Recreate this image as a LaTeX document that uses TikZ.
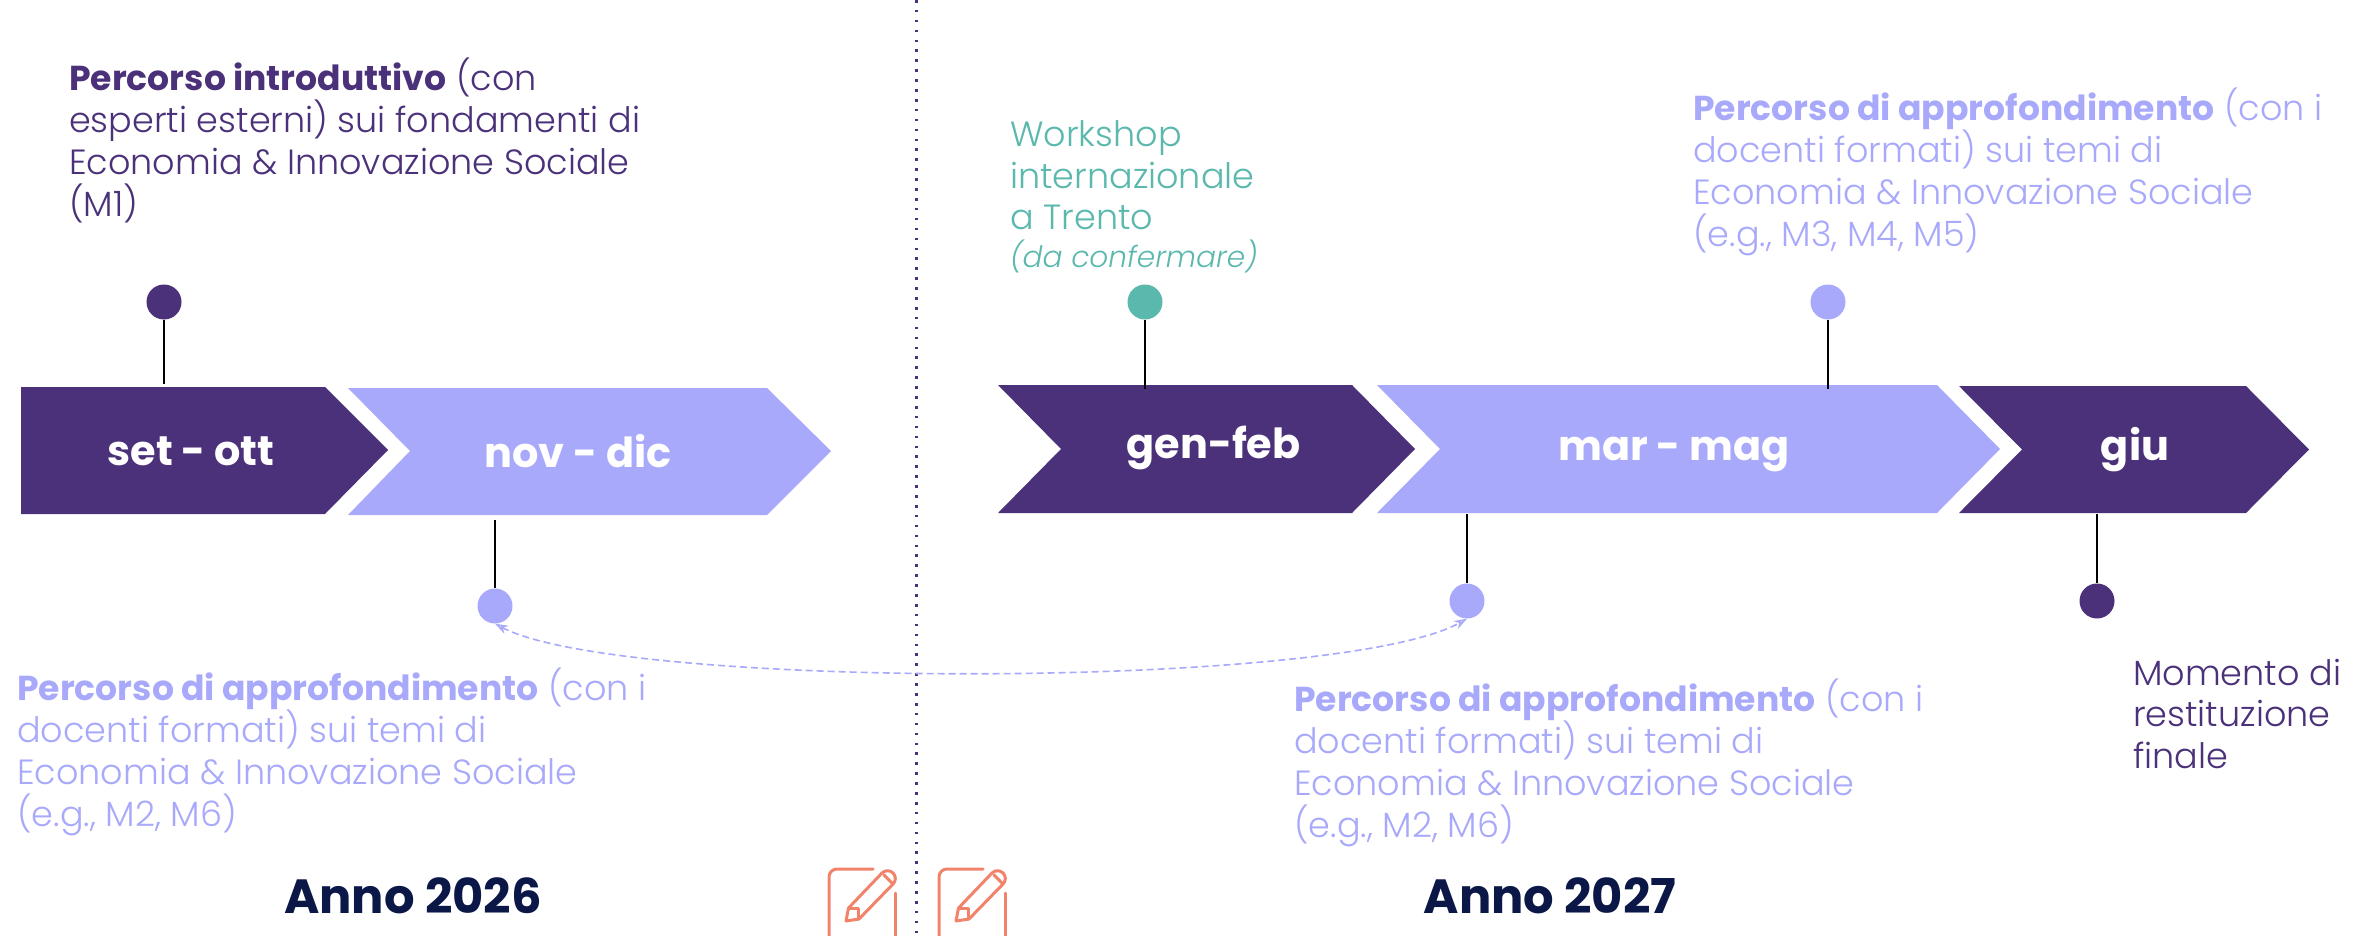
\documentclass[tikz,border=0pt]{standalone}
\usepackage{fontspec}
\setmainfont{Poppins}[UprightFont=* Light, BoldFont=* Bold, ItalicFont=* Light Italic]
\usetikzlibrary{positioning, arrows.meta}

\definecolor{darkpurple}{HTML}{4A3179}
\definecolor{lavender}{HTML}{A8A9FB}
\definecolor{tealgreen}{HTML}{5BB8AD}
\definecolor{navyblue}{HTML}{0A1747}
\definecolor{coral}{HTML}{F2836B}

\newcommand{\notehead}[1]{{\fontsize{34.6}{41.7}\selectfont\bfseries #1}}
\lineskiplimit=-100pt

\tikzset{
    dotnode/.style={circle, minimum size=35pt, inner sep=0pt},
    stemline/.style={black, line width=2pt},
    monthlabel/.style={anchor=base, text=white, inner sep=0pt, font=\fontsize{41.4}{50}\selectfont\bfseries},
    noteblock/.style={anchor=base west, align=left, inner sep=0pt, font=\fontsize{35}{41.7}\selectfont},
    yearlabel/.style={anchor=base, inner sep=0pt, text=navyblue, font=\fontsize{48}{56}\selectfont\bfseries},
}

\begin{document}
\begin{tikzpicture}[x=1pt, y=-1pt]
        \useasboundingbox (0,0) rectangle (2371,936);
        % separator
        \coordinate (septop) at (916.5,0);
        \coordinate (sepbottom) at (916.5,936);
        \draw [darkpurple, line width=2.6pt, dash pattern=on 2.6pt off 7.3pt] (septop)--(sepbottom);
        % chevrons
        \fill [darkpurple] (21,387)--(325,387)--(388,450)--(325,514)--(21,514)--cycle;
        \fill [lavender] (348,388)--(767,388)--(831,451)--(767,515)--(348,515)--(410,451)--cycle;
        \fill [darkpurple] (998,385)--(1352,385)--(1415,449)--(1352,513)--(998,513)--(1061,449)--cycle;
        \fill [lavender] (1377,385)--(1937,385)--(2000,449)--(1937,513)--(1377,513)--(1440,449)--cycle;
        \fill [darkpurple] (1959,386)--(2246,386)--(2309,449.5)--(2246,513)--(1959,513)--(2022,449.5)--cycle;
        \node [monthlabel] (setott) at (191,465) {set - ott};
        \node [monthlabel] (novdic) at (578,467) {nov - dic};
        \node [monthlabel] (genfeb) at (1213.5,458) {gen-feb};
        \node [monthlabel] (marmag) at (1674,460) {mar - mag};
        \node [monthlabel] (giu) at (2135,460) {giu};
        % stem ends on the chevrons
        \coordinate (setottedge) at (164,384);
        \coordinate (novdicedge) at (495,520);
        \coordinate (genfebedge) at (1145,389);
        \coordinate (marmagtop) at (1828,389);
        \coordinate (marmagbot) at (1467,514);
        \coordinate (giuedge) at (2097,514);
        % dots
        \node [dotnode, fill=darkpurple] (dotintro) at (164,302) {};
        \node [dotnode, fill=lavender] (dotnov) at (495,606) {};
        \node [dotnode, fill=tealgreen] (dotwork) at (1145,302) {};
        \node [dotnode, fill=lavender] (dottop) at (1828,302) {};
        \node [dotnode, fill=lavender] (dotmar) at (1467,601) {};
        \node [dotnode, fill=darkpurple] (dotgiu) at (2097,601) {};
        \draw [stemline] (dotintro)--(setottedge);
        \draw [stemline] (novdicedge)--(dotnov);
        \draw [stemline] (dotwork)--(genfebedge);
        \draw [stemline] (dottop)--(marmagtop);
        \draw [stemline] (marmagbot)--(dotmar);
        \draw [stemline] (giuedge)--(dotgiu);
        \draw [{Stealth[length=13pt,width=9pt,open]}-{Stealth[length=13pt,width=9pt,open]}, lavender, line width=1.6pt, dash pattern=on 7pt off 4pt]
            (dotnov.south) .. controls (620,690) and (1340,690) .. (dotmar.south);
        % notes
        \node [noteblock, text=darkpurple] (noteintro) at (69,216) {\notehead{Percorso introduttivo} (con\\esperti esterni) sui fondamenti di\\Economia \& Innovazione Sociale\\(M1)};
        \node [noteblock, text=lavender] (notenov) at (17,826) {\notehead{Percorso di approfondimento} (con i\\docenti formati) sui temi di\\Economia \& Innovazione Sociale\\(e.g., M2, M6)};
        \node [noteblock, text=tealgreen] (notework) at (1010,267) {Workshop\\internazionale\\a Trento\\[-4.5pt]{\fontsize{29.6}{38}\selectfont\itshape (da confermare)}};
        \node [noteblock, text=lavender] (notetop) at (1693,246) {\notehead{Percorso di approfondimento} (con i\\docenti formati) sui temi di\\Economia \& Innovazione Sociale\\(e.g., M3, M4, M5)};
        \node [noteblock, text=lavender] (notemar) at (1294,837) {\notehead{Percorso di approfondimento} (con i\\docenti formati) sui temi di\\Economia \& Innovazione Sociale\\(e.g., M2, M6)};
        \node [noteblock, text=darkpurple] (notegiu) at (2133,768.4) {Momento di\\restituzione\\finale};
        % years
        \node [yearlabel] (year2026) at (413,913) {Anno 2026};
        \node [yearlabel] (year2027) at (1550,913) {Anno 2027};
        % edit icons
        \foreach \ox in {0,110} {
            \begin{scope}[xshift=\ox pt, coral, line width=3pt, line cap=round, line join=round]
                \draw [rounded corners=8pt] (873,869)--(829,869)--(829,936);
                \draw [rounded corners=8pt] (895,893)--(895,936);
                \draw (846,921)--(848.5,908)--(882,873) arc[start angle=135, end angle=-45, radius=7.8pt]--(859,919)--cycle;
                \draw (848.5,908)--(858,908)--(858,919);
                \draw (884,875)--(892,883);
            \end{scope}
        }
    \end{tikzpicture}
\end{document}
